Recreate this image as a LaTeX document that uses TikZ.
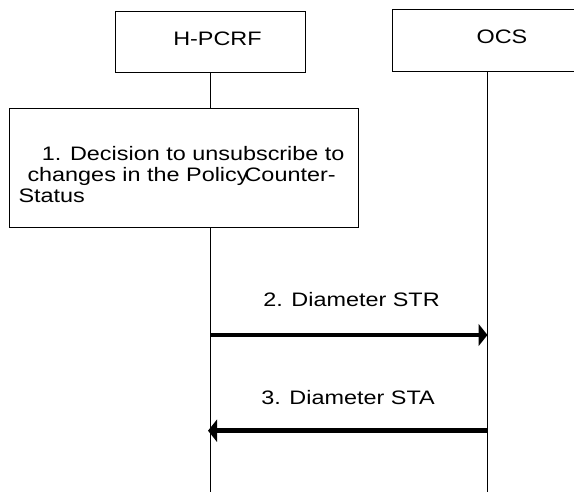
\documentclass[tikz,border=0pt]{standalone}
\usepackage{fontspec}
\setmainfont{Liberation Sans}[FakeStretch=1.2]
\usetikzlibrary{arrows.meta}

\begin{document}
\begin{tikzpicture}[x=1pt, y=-1pt,
  entity/.style={draw, line width=0.8pt, minimum width=190pt, minimum height=61pt, inner sep=0pt},
  actbox/.style={draw, line width=0.8pt, minimum width=349pt, minimum height=119pt, inner sep=0pt},
  lbl/.style={font=\fontsize{19.5}{21}\selectfont, inner sep=0pt},
  life/.style={line width=0.8pt},
  msg/.style={line width=4.5pt, -{Triangle[length=9pt, width=22pt]}}]
  \clip (0,0) rectangle (574,492);

  % entities
  \node[entity, label={[lbl, xshift=7.5pt, yshift=3pt]center:H-PCRF}] (hpcrf) at (210,42.2) {};
  \node[entity, minimum height=62pt, label={[lbl, xshift=15pt, yshift=3.5pt]center:OCS}] (ocs) at (487,40.2) {};

  % step 1
  \node[actbox] (decision) at (183.7,168.1) {};
  \node[lbl, anchor=north west, align=left] (decisiontext) at (18.3,146.5)
    {\hspace*{23.4pt}1. Decision to unsubscribe to\\
     \hspace*{9pt}changes in the Policy\kern-4pt Counter-\\
     Status};

  % lifelines
  \coordinate (hpcrf-end) at (210,492);
  \coordinate (ocs-end) at (487,492);
  \draw[life] (hpcrf.south) -- (hpcrf.south |- decision.north);
  \draw[life] (hpcrf.south |- decision.south) -- (hpcrf-end);
  \draw[life] (ocs) -- (ocs-end);

  % messages
  \coordinate (str-from) at (210,335);
  \coordinate (str-to) at (487.5,335);
  \coordinate (sta-from) at (487,430.7);
  \coordinate (sta-to) at (208,430.7);
  \draw[msg] (str-from) -- (str-to);
  \node[lbl, anchor=base] (strlabel) at (351.5,306.5) {2. Diameter STR};
  \draw[msg] (sta-from) -- (sta-to);
  \node[lbl, anchor=base] (stalabel) at (348,404) {3. Diameter STA};
\end{tikzpicture}
\end{document}
